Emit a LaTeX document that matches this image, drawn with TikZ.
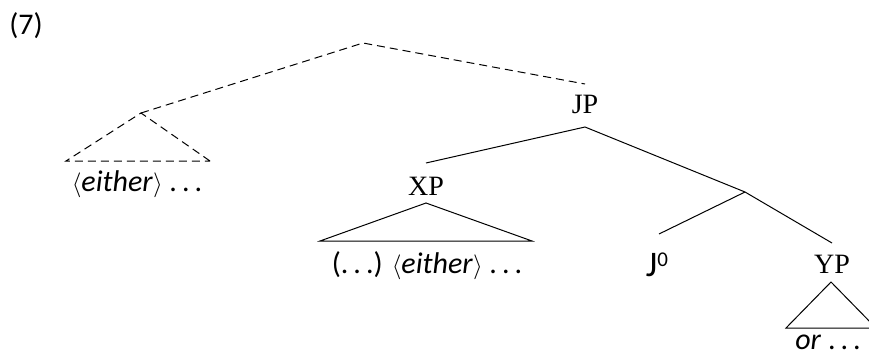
\documentclass[tikz,border=0pt]{standalone}
\usepackage{fontspec}
\setmainfont{Liberation Serif}
\newfontfamily\carlfont{Carlito}
\newcommand{\dd}{.\hspace{5pt}.\hspace{5pt}.}
\tikzset{
  lbl/.style={inner sep=0pt, font=\fontsize{28}{31}\selectfont},
  sl/.style={inner sep=0pt, font=\carlfont\fontsize{30}{33}\selectfont},
  br/.style={line width=1pt, black},
  dbr/.style={br, dash pattern=on 8pt off 5pt},
}
\begin{document}
\begin{tikzpicture}[x=1pt,y=-1pt]
\useasboundingbox (0,0) rectangle (869,356);
\node[sl] (num) at (26,26) {(7)};
% dashed part
\coordinate (top) at (363,43);
\coordinate (lft) at (141,113);
\coordinate (jptop) at (585,84);
\coordinate (lbl1) at (66,161);
\coordinate (lbr) at (210,161);
\draw[dbr] (lft) -- (top) -- (jptop);
\draw[dbr] (lbr) -- (lft) -- (lbl1) -- cycle;
\node[sl] (ltext) at (137,184) {$\langle$\textit{either}$\rangle$ \dd};
% JP
\node[lbl] (jp) at (585,104) {JP};
\coordinate (jpb) at (585,127);
\coordinate (xpt) at (426,163);
\coordinate (jn) at (745,192);
\coordinate (j0t) at (659,234);
\coordinate (ypt) at (832,243);
\draw[br] (xpt) -- (jpb) -- (jn) -- (ypt);
\draw[br] (jn) -- (j0t);
\node[lbl] (xp) at (426,186) {XP};
\coordinate (xa) at (426,203);
\coordinate (xl) at (320,241);
\coordinate (xr) at (532,241);
\draw[br] (xa) -- (xl) -- (xr) -- cycle;
\node[sl] (mtext) at (427,266) {(\dd) $\langle$\textit{either}$\rangle$ \dd};
\node[sl, font=\carlfont\fontsize{36}{38}\selectfont] (j0) at (657,265) {J\raisebox{10pt}{\fontsize{21}{22}\selectfont 0}};
\node[lbl] (yp) at (832,264) {YP};
\coordinate (ya) at (831,282);
\coordinate (yl) at (786,328);
\coordinate (yr) at (876,328);
\draw[br] (ya) -- (yl) -- (yr) -- cycle;
\node[sl] (ytext) at (828,342) {\textit{or} \dd};
\end{tikzpicture}
\end{document}
